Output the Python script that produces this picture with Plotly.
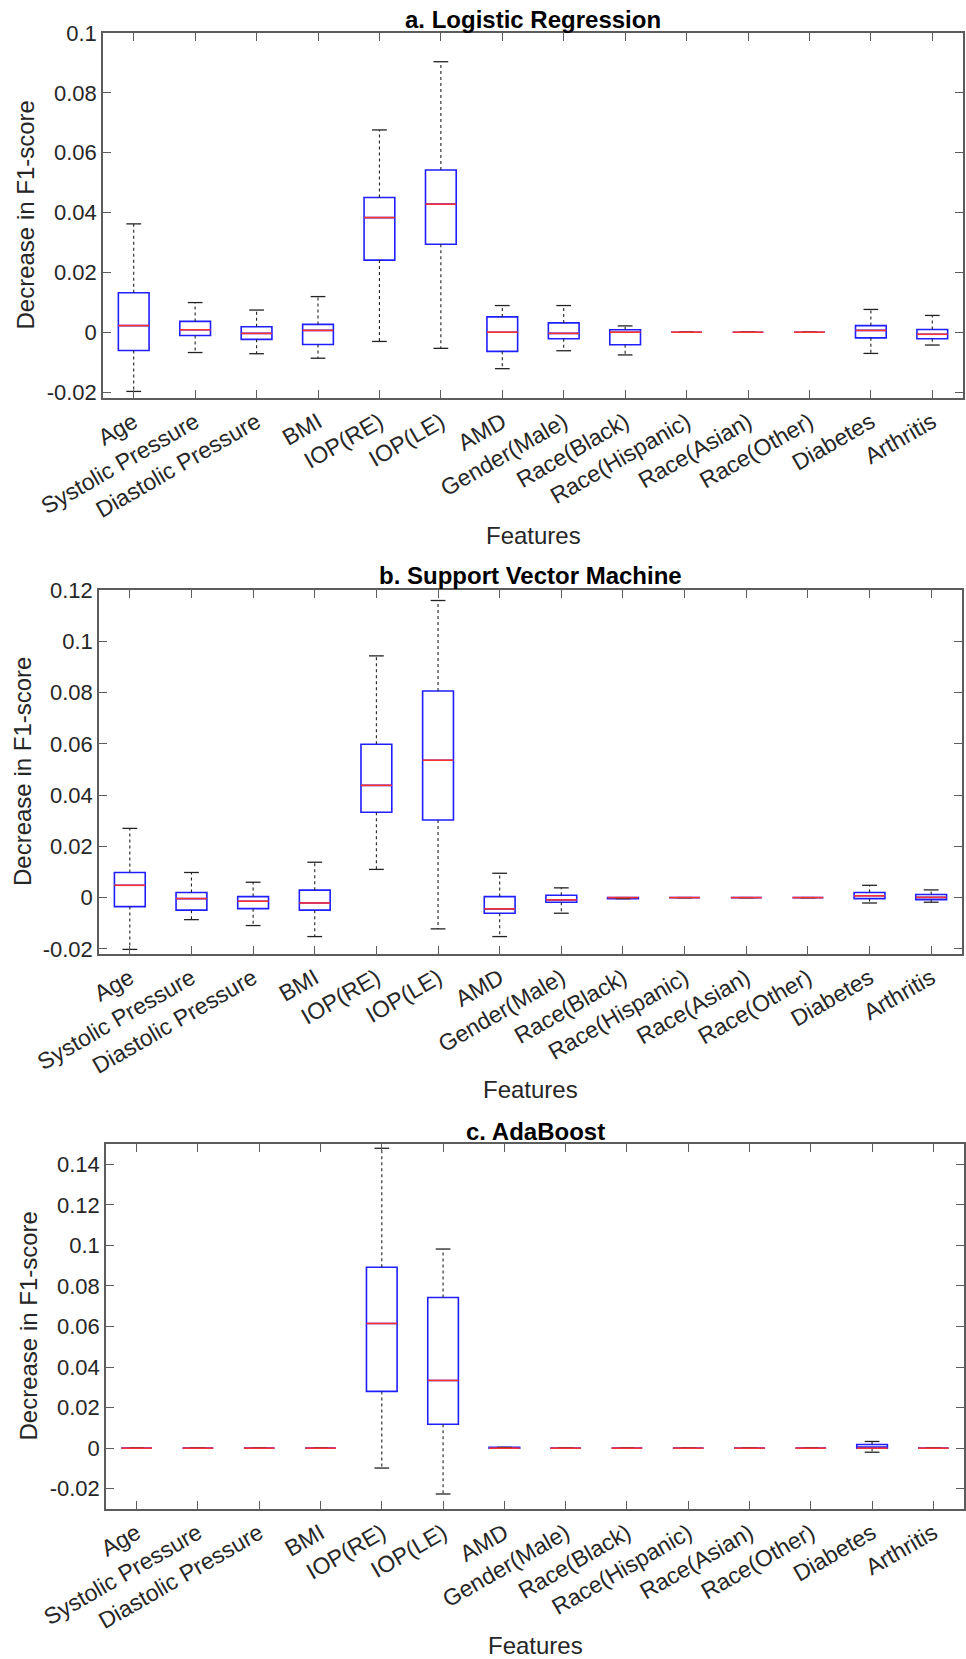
import plotly.graph_objects as go

features = ["Age", "Systolic Pressure", "Diastolic Pressure", "BMI", "IOP(RE)", "IOP(LE)",
            "AMD", "Gender(Male)", "Race(Black)", "Race(Hispanic)", "Race(Asian)",
            "Race(Other)", "Diabetes", "Arthritis"]

# a. Logistic Regression
lr_upper  = [0.0362, 0.0099, 0.0074, 0.0119, 0.0676, 0.0904, 0.0089, 0.0089, 0.0021, 0, 0, 0, 0.0076, 0.0056]
lr_q3     = [0.0132, 0.0036, 0.0018, 0.0026, 0.0450, 0.0542, 0.0051, 0.0031, 0.0008, 0, 0, 0, 0.0022, 0.0009]
lr_median = [0.0022, 0.0008, -0.0004, 0.0006, 0.0383, 0.0428, 0.0000, -0.0004, 0.0000, 0, 0, 0, 0.0006, -0.0007]
lr_q1     = [-0.0061, -0.0011, -0.0024, -0.0041, 0.0241, 0.0294, -0.0064, -0.0022, -0.0042, 0, 0, 0, -0.0019, -0.0022]
lr_lower  = [-0.0198, -0.0068, -0.0072, -0.0087, -0.0031, -0.0054, -0.0122, -0.0062, -0.0076, 0, 0, 0, -0.0071, -0.0043]

# b. Support Vector Machine
svm_upper  = [0.0270, 0.0098, 0.0060, 0.0138, 0.0943, 0.1159, 0.0095, 0.0038, 0, 0, 0, 0, 0.0048, 0.0030]
svm_q3     = [0.0098, 0.0020, 0.0004, 0.0029, 0.0598, 0.0806, 0.0004, 0.0009, 0, 0, 0, 0, 0.0020, 0.0012]
svm_median = [0.0048, -0.0004, -0.0014, -0.0021, 0.0438, 0.0536, -0.0044, -0.0009, 0, 0, 0, 0, 0.0007, 0.0001]
svm_q1     = [-0.0035, -0.0049, -0.0043, -0.0049, 0.0333, 0.0303, -0.0061, -0.0018, -0.0004, 0, 0, 0, -0.0004, -0.0008]
svm_lower  = [-0.0202, -0.0086, -0.0109, -0.0152, 0.0110, -0.0122, -0.0152, -0.0061, -0.0004, 0, 0, 0, -0.0021, -0.0018]

# c. AdaBoost
ada_upper  = [0, 0, 0, 0, 0.1479, 0.0982, 0.0004, 0, 0, 0, 0, 0, 0.0033, 0]
ada_q3     = [0, 0, 0, 0, 0.0892, 0.0743, 0.0004, 0, 0, 0, 0, 0, 0.0018, 0]
ada_median = [0, 0, 0, 0, 0.0615, 0.0334, 0.0000, 0, 0, 0, 0, 0, 0.0000, 0]
ada_q1     = [0, 0, 0, 0, 0.0280, 0.0118, 0.0000, 0, 0, 0, 0, 0, 0.0000, 0]
ada_lower  = [0, 0, 0, 0, -0.0098, -0.0226, 0.0000, 0, 0, 0, 0, 0, -0.0020, 0]

titles = ["a. Logistic Regression", "b. Support Vector Machine", "c. AdaBoost"]

ytick_vals = [
    [-0.02, 0, 0.02, 0.04, 0.06, 0.08, 0.1],
    [-0.02, 0, 0.02, 0.04, 0.06, 0.08, 0.1, 0.12],
    [-0.02, 0, 0.02, 0.04, 0.06, 0.08, 0.1, 0.12, 0.14],
]
ytick_text = [
    ["-0.02", "0", "0.02", "0.04", "0.06", "0.08", "0.1"],
    ["-0.02", "0", "0.02", "0.04", "0.06", "0.08", "0.1", "0.12"],
    ["-0.02", "0", "0.02", "0.04", "0.06", "0.08", "0.1", "0.12", "0.14"],
]
y_ranges = [[-0.022, 0.1], [-0.022, 0.12], [-0.03, 0.15]]

panels = [
    (lr_lower, lr_q1, lr_median, lr_q3, lr_upper),
    (svm_lower, svm_q1, svm_median, svm_q3, svm_upper),
    (ada_lower, ada_q1, ada_median, ada_q3, ada_upper),
]

# layout geometry (pixels in a 966 x 1659 page)
W, H = 966, 1659
plot_px = [  # left, right, top, bottom
    (103, 963, 33, 398),
    (99, 962, 590, 954),
    (106, 964, 1144, 1509),
]
title_y_px = [19, 576, 1131]
xlabel_y_px = [535, 1089, 1645]
ylabel_x_px = [25, 22, 28]

FONT = "Liberation Sans, Arial, Helvetica, sans-serif"
BLUE = "rgb(30,30,255)"
RED = "rgb(255,50,50)"
AX = "#5c5c5c"
TXT = "#262626"

BOX_HALF = 0.25
CAP_HALF = 0.12

fig = go.Figure()
idx = list(range(len(features)))
annotations = []

for p, (lo, q1, med, q3, up) in enumerate(panels):
    xa = "x" if p == 0 else f"x{p+1}"
    ya = "y" if p == 0 else f"y{p+1}"

    fig.add_trace(go.Box(
        x=idx, q1=q1, median=med, q3=q3, lowerfence=q1, upperfence=q3,
        width=2 * BOX_HALF, whiskerwidth=0, boxpoints=False,
        line=dict(color=BLUE, width=1.6), fillcolor="rgba(0,0,0,0)",
        xaxis=xa, yaxis=ya, showlegend=False, hoverinfo="skip",
    ))

    wx, wy, cx, cy, mx, my = [], [], [], [], [], []
    for i in idx:
        wx += [i, i, None, i, i, None]
        wy += [q3[i], up[i], None, q1[i], lo[i], None]
        cx += [i - CAP_HALF, i + CAP_HALF, None, i - CAP_HALF, i + CAP_HALF, None]
        cy += [up[i], up[i], None, lo[i], lo[i], None]
        mx += [i - BOX_HALF, i + BOX_HALF, None]
        my += [med[i], med[i], None]

    fig.add_trace(go.Scatter(x=wx, y=wy, mode="lines", xaxis=xa, yaxis=ya,
                             line=dict(color="#222", width=1.1, dash="3px,3px"),
                             showlegend=False, hoverinfo="skip"))
    fig.add_trace(go.Scatter(x=cx, y=cy, mode="lines", xaxis=xa, yaxis=ya,
                             line=dict(color="#222", width=1.3),
                             showlegend=False, hoverinfo="skip"))
    fig.add_trace(go.Scatter(x=mx, y=my, mode="lines", xaxis=xa, yaxis=ya,
                             line=dict(color=RED, width=1.6),
                             showlegend=False, hoverinfo="skip"))

    l, r, t, b = plot_px[p]
    xdom = [l / W, r / W]
    ydom = [1 - b / H, 1 - t / H]
    xkey = "xaxis" if p == 0 else f"xaxis{p+1}"
    ykey = "yaxis" if p == 0 else f"yaxis{p+1}"
    fig.update_layout(**{
        xkey: dict(
            domain=xdom, anchor=ya, range=[-0.5, len(features) - 0.5],
            tickmode="array", tickvals=idx, ticktext=features, tickangle=-30,
            ticks="inside", ticklen=8, tickwidth=1.2, tickcolor=AX,
            showline=True, linecolor=AX, linewidth=1.6, mirror="allticks",
            showgrid=False, zeroline=False, automargin=False,
            tickfont=dict(family=FONT, size=23, color=TXT),
        ),
        ykey: dict(
            domain=ydom, anchor=xa, range=y_ranges[p],
            tickmode="array", tickvals=ytick_vals[p], ticktext=ytick_text[p],
            ticks="inside", ticklen=8, tickwidth=1.2, tickcolor=AX,
            showline=True, linecolor=AX, linewidth=1.6, mirror="allticks",
            showgrid=False, zeroline=False, automargin=False,
            tickfont=dict(family=FONT, size=22, color=TXT),
        ),
    })

    xc = (l + r) / 2 / W
    annotations.append(dict(text=f"<b>{titles[p]}</b>", xref="paper", yref="paper",
                            x=xc, y=1 - title_y_px[p] / H, xanchor="center", yanchor="middle",
                            showarrow=False, font=dict(family=FONT, size=24, color="black")))
    annotations.append(dict(text="Features", xref="paper", yref="paper",
                            x=xc, y=1 - xlabel_y_px[p] / H, xanchor="center", yanchor="middle",
                            showarrow=False, font=dict(family=FONT, size=24, color=TXT)))
    annotations.append(dict(text="Decrease in F1-score", xref="paper", yref="paper",
                            x=ylabel_x_px[p] / W, y=1 - (t + b) / 2 / H, textangle=-90,
                            xanchor="center", yanchor="middle",
                            showarrow=False, font=dict(family=FONT, size=24, color=TXT)))

fig.update_layout(
    width=W, height=H,
    margin=dict(l=0, r=0, t=0, b=0, pad=0, autoexpand=False),
    paper_bgcolor="white", plot_bgcolor="white",
    showlegend=False, hovermode=False,
    annotations=annotations,
)

fig.write_html("out.html",
               config={"displayModeBar": False},
               post_script="document.body.style.margin='0px';document.body.style.overflow='hidden';")
